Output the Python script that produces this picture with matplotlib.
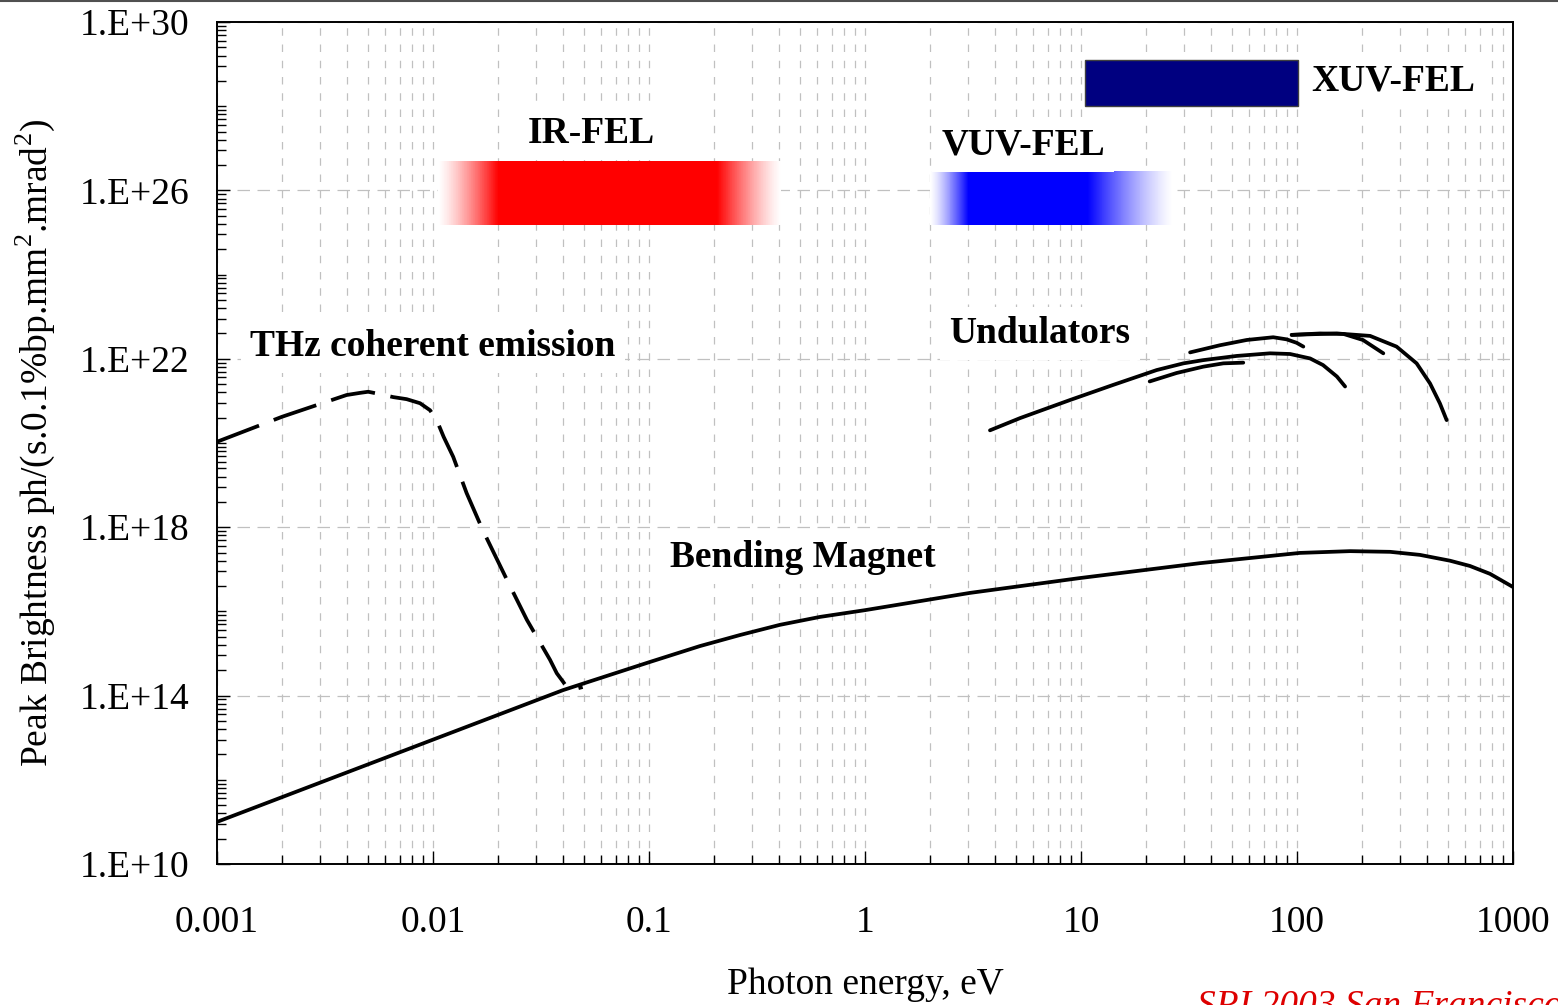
import numpy as np
import matplotlib.pyplot as plt
from matplotlib.colors import LinearSegmentedColormap
from matplotlib.lines import Line2D
from matplotlib.patches import Rectangle
from matplotlib.ticker import FixedLocator, FixedFormatter, FuncFormatter, NullFormatter

plt.rcParams['font.family'] = ['Liberation Serif', 'DejaVu Serif']
plt.rcParams['mathtext.fontset'] = 'custom'
plt.rcParams['mathtext.rm'] = 'Liberation Serif'

# bending magnet spectrum: photon energy (eV) vs peak brightness
bm_energy = [0.001, 0.01, 0.04, 0.101, 0.172, 0.264, 0.404, 0.619, 1.0, 3.06, 9.9,
             35.6, 103, 176, 270, 371, 511, 632, 783, 1000]
bm_bright = [1e11, 9e12, 1.35e14, 6.3e14, 1.5e15, 2.75e15, 4.8e15, 7.4e15, 1.07e16,
             2.75e16, 6.2e16, 1.4e17, 2.45e17, 2.7e17, 2.6e17, 2.2e17, 1.6e17,
             1.2e17, 7.8e16, 3.8e16]

# coherent THz emission (dashed)
thz_energy = [0.001, 0.002, 0.00398, 0.00459, 0.00501, 0.00568, 0.00655, 0.00755,
              0.00871, 0.00969, 0.0104, 0.0112, 0.0124, 0.0143, 0.017, 0.022,
              0.0272, 0.0348, 0.0374, 0.0401, 0.0416, 0.0447, 0.0493]
thz_bright = [1.07e20, 4.2e20, 1.38e21, 1.55e21, 1.65e21, 1.45e21, 1.23e21, 1.1e21,
              8.8e20, 6.0e20, 3.5e20, 1.4e20, 4.7e19, 6.5e18, 8.5e17, 5.6e16,
              6.3e15, 7.1e14, 3.4e14, 2.1e14, 1.6e14, 1.4e14, 1.6e14]

# undulator harmonics
und1_energy = [3.79, 5.22, 8.9, 14.1, 22.4, 29.8, 36.8, 52.6, 75, 92.9, 115, 132, 153, 167]
und1_bright = [2.0e20, 3.9e20, 1.05e21, 2.4e21, 5.4e21, 7.8e21, 9.3e21, 1.17e22,
               1.35e22, 1.3e22, 1.02e22, 7.1e21, 3.8e21, 2.2e21]
und2_energy = [20.8, 27.7, 36.8, 45.6, 56.4]
und2_bright = [2.9e21, 4.6e21, 6.5e21, 7.8e21, 8.1e21]
und3_energy = [32, 44, 58.5, 77.6, 89.5, 99.6, 107]
und3_bright = [1.42e22, 2.1e22, 2.8e22, 3.25e22, 2.9e22, 2.4e22, 1.95e22]
und4_energy = [94.5, 128, 164, 202, 251]
und4_bright = [3.7e22, 4.0e22, 3.9e22, 2.8e22, 1.35e22]
und5_energy = [94.5, 153, 218, 289, 358, 413, 459, 493]
und5_bright = [3.7e22, 4.0e22, 3.5e22, 1.95e22, 7.8e21, 2.6e21, 8.7e20, 3.5e20]

# FEL ranges: (faded left, solid left, solid right, faded right), (low, high)
ir_fel_x = [0.0105, 0.020, 0.206, 0.41]
ir_fel_y = [1.5e25, 5e26]
vuv_fel_x = [2.0, 3.0, 10.7, 26.7]
vuv_fel_y = [1.5e25, 2.9e26]
xuv_fel_x = [10.4, 101]
xuv_fel_y = [1e28, 1.26e29]

labels = ['IR-FEL', 'VUV-FEL', 'XUV-FEL', 'THz coherent emission', 'Undulators', 'Bending Magnet']
label_x = [0.054, 5.4, 278, 0.01, 6.46, 0.516]
label_y = [2.3e27, 1.2e27, 4.0e28, 2.0e22, 4.0e22, 1.9e17]

xtick_vals = [0.001, 0.01, 0.1, 1, 10, 100, 1000]
xtick_labels = ['0.001', '0.01', '0.1', '1', '10', '100', '1000']
ytick_exps = [10, 14, 18, 22, 26, 30]


def fade_bar(ax, xe, ye, color):
    # solid block between xe[1] and xe[2], fading to white towards xe[0] and xe[3]
    xs = np.geomspace(xe[0], xe[3], 500)
    lx = np.log10(xs)
    b0, a0, a1, b1 = np.log10(xe)
    ramp = np.ones_like(lx)
    left = lx < a0
    ramp[left] = (lx[left] - b0) / (a0 - b0)
    right = lx > a1
    ramp[right] = (b1 - lx[right]) / (b1 - a1)
    ramp = np.clip(ramp, 0, 1) ** 1.3
    cmap = LinearSegmentedColormap.from_list('fade', ['white', color])
    ax.pcolormesh(xs, ye, ramp[None, :-1], cmap=cmap, vmin=0, vmax=1,
                  shading='flat', zorder=2)


fig = plt.figure(figsize=(15.58, 10.05), dpi=100)
ax = fig.add_axes([0.1393, 0.1403, 0.8318, 0.8378])
ax.set_xscale('log')
ax.set_yscale('log')
ax.set_xlim(0.001, 1000)
ax.set_ylim(1e10, 1e30)

lw = 2.7
ax.plot(bm_energy, bm_bright, color='black', lw=lw, solid_joinstyle='round', zorder=4)
ax.plot(thz_energy, thz_bright, color='black', lw=lw, dashes=(12, 4.2), zorder=4)
for ex, br in [(und1_energy, und1_bright), (und2_energy, und2_bright),
               (und3_energy, und3_bright), (und4_energy, und4_bright),
               (und5_energy, und5_bright)]:
    ax.plot(ex, br, color='black', lw=lw, solid_capstyle='round',
            solid_joinstyle='round', zorder=4)

fade_bar(ax, ir_fel_x, ir_fel_y, '#ff0000')
fade_bar(ax, vuv_fel_x, vuv_fel_y, '#0000ff')
ax.add_patch(Rectangle((xuv_fel_x[0], xuv_fel_y[0]), xuv_fel_x[1] - xuv_fel_x[0],
                       xuv_fel_y[1] - xuv_fel_y[0], facecolor='#000080',
                       edgecolor='#404040', lw=1, zorder=2))

for txt, x, y in zip(labels, label_x, label_y):
    ax.text(x, y, txt, fontsize=27, fontweight='bold', ha='center', va='center',
            zorder=5, bbox=dict(boxstyle='square,pad=0.25', fc='white', ec='none'))

# axes, ticks and grid
ax.xaxis.set_major_locator(FixedLocator(xtick_vals))
ax.xaxis.set_major_formatter(FixedFormatter(xtick_labels))
ax.xaxis.set_minor_formatter(NullFormatter())
ymaj = [10.0 ** e for e in ytick_exps]
ymin = [10.0 ** e * j ** 2 * 100 ** m for e in ytick_exps[:-1]
        for m in (0, 1) for j in range(2, 11)]
ax.yaxis.set_major_locator(FixedLocator(ymaj))
ax.yaxis.set_minor_locator(FixedLocator(ymin))
ax.yaxis.set_major_formatter(FuncFormatter(lambda v, p: '1.E+%02d' % round(np.log10(v))))
ax.yaxis.set_minor_formatter(NullFormatter())

ax.tick_params(which='both', direction='in', top=False, right=False, width=1.0,
               labelsize=27, colors='black')
ax.tick_params(which='major', length=9.5)
ax.tick_params(which='minor', length=6.5)
ax.tick_params(axis='x', which='major', pad=30)
ax.tick_params(axis='y', which='major', pad=20)

ax.set_axisbelow(True)
ax.grid(axis='x', which='both', color='#c0c0c0', lw=0.9, dashes=(6, 7))
ax.grid(axis='y', which='major', color='#c0c0c0', lw=0.9, dashes=(10, 6))
for s in ax.spines.values():
    s.set_linewidth(1.4)

ax.set_xlabel('Photon energy, eV', fontsize=27, labelpad=20)
ax.set_ylabel('Peak Brightness ph/(s.0.1%bp.mm$^2$.mrad$^2$)', fontsize=27, labelpad=16)

fig.text(1197 / 1558, -0.011, 'SRI 2003 San Francisco', color='#dd0000',
         fontsize=27, style='italic', ha='left', va='baseline')
fig.add_artist(Line2D([0, 1], [0.999, 0.999], transform=fig.transFigure,
                      color='#505050', lw=1.5))

fig.savefig('out.png', dpi=100)
